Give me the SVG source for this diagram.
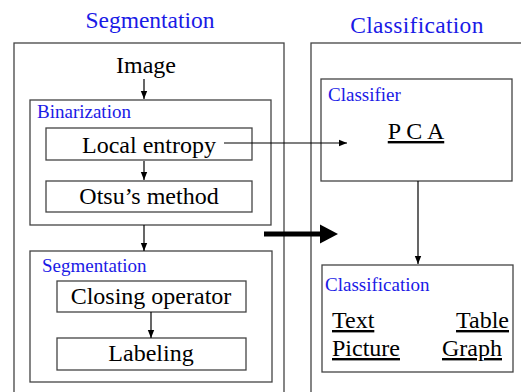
<svg xmlns="http://www.w3.org/2000/svg" width="521" height="392" viewBox="0 0 521 392">
<defs>
<style>
.box{fill:none;stroke:#444;stroke-width:1.3}
.t{font-family:'Liberation Serif','Tinos','Times New Roman','DejaVu Serif',serif;font-size:24px;fill:#000}
.b{font-family:'Liberation Serif','Tinos','Times New Roman','DejaVu Serif',serif;font-size:19px;fill:#1a1ae6}
.h{font-family:'Liberation Serif','Tinos','Times New Roman','DejaVu Serif',serif;font-size:23.5px;fill:#1a1ae6;text-anchor:middle}
.c{text-anchor:middle}
.u{text-decoration:underline}
.ln{stroke:#000;stroke-width:1.2;fill:none}
</style>
<marker id="ah" viewBox="0 0 10 10" refX="10" refY="5" markerWidth="8" markerHeight="8" markerUnits="userSpaceOnUse" orient="auto">
<path d="M0,1 L10,5 L0,9 z" fill="#000"/>
</marker>
</defs>
<g id="seg-panel">
<text class="h" x="150" y="28" font-family="Liberation Serif, serif">Segmentation</text>
<rect class="box" x="14" y="43" width="270" height="400"/>
</g>
<g id="cls-panel">
<text class="h" x="417" y="33" style="letter-spacing:0.3px">Classification</text>
<rect class="box" x="311" y="43" width="300" height="400"/>
</g>
<g id="image"><text class="t c" x="146" y="73">Image</text></g>
<g id="binarization">
<rect class="box" x="30" y="100" width="241" height="125"/>
<text class="b" x="37" y="118">Binarization</text>
</g>
<g id="local-entropy">
<rect class="box" x="46" y="128" width="206" height="32"/>
<text class="t c" x="149" y="153">Local entropy</text>
</g>
<g id="otsu">
<rect class="box" x="46" y="181" width="206" height="31"/>
<text class="t c" x="149" y="204">Otsu’s method</text>
</g>
<g id="segmentation">
<rect class="box" x="30" y="251" width="242" height="131"/>
<text class="b" x="42" y="272">Segmentation</text>
</g>
<g id="closing">
<rect class="box" x="57" y="281" width="189" height="31"/>
<text class="t c" x="151" y="304">Closing operator</text>
</g>
<g id="labeling">
<rect class="box" x="57" y="338" width="189" height="32"/>
<text class="t c" x="151" y="361">Labeling</text>
</g>
<g id="classifier">
<rect class="box" x="321" y="79" width="191" height="102"/>
<text class="b" x="328" y="101">Classifier</text>
<text class="t c u" x="416" y="139">P C A</text>
</g>
<g id="classification">
<rect class="box" x="322" y="265" width="191" height="107"/>
<text class="b" x="325" y="291">Classification</text>
<text class="t u" x="332" y="328">Text</text>
<text class="t u" x="509" y="328" text-anchor="end">Table</text>
<text class="t u" x="332" y="356">Picture</text>
<text class="t u" x="502" y="356" text-anchor="end">Graph</text>
</g>
<g id="connectors">
<line class="ln" x1="144" y1="79" x2="144" y2="99" marker-end="url(#ah)"/>
<line class="ln" x1="144" y1="161" x2="144" y2="180" marker-end="url(#ah)"/>
<line class="ln" x1="144" y1="225" x2="144" y2="251" marker-end="url(#ah)"/>
<line class="ln" x1="151" y1="312" x2="151" y2="338" marker-end="url(#ah)"/>
<line class="ln" x1="224" y1="143" x2="347" y2="143" marker-end="url(#ah)"/>
<line class="ln" x1="418" y1="181" x2="418" y2="264" marker-end="url(#ah)"/>
<line x1="264" y1="234" x2="322" y2="234" stroke="#000" stroke-width="5"/>
<path d="M320,224.5 L338,234 L320,243.5 z" fill="#000"/>
</g>
</svg>
